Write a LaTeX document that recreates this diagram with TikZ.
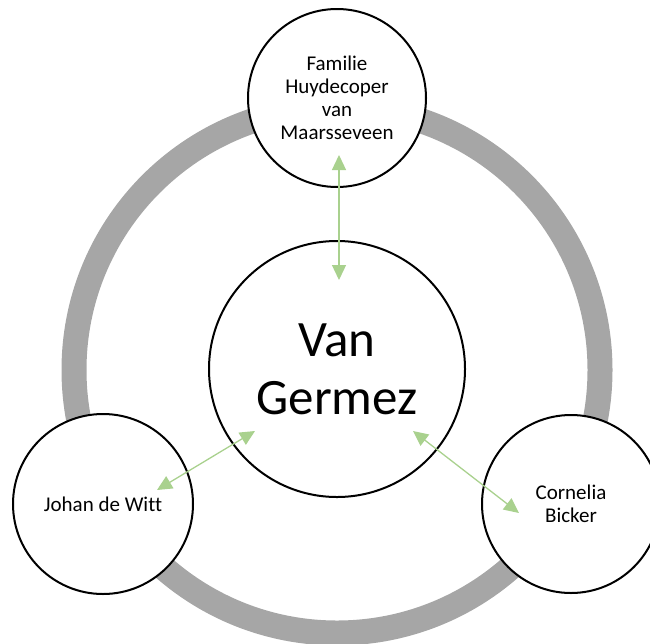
\documentclass[tikz,border=0pt]{standalone}
\usepackage{fontspec}
\setmainfont{Carlito}[Ligatures=NoCommon]
\usetikzlibrary{arrows.meta,calc}

\definecolor{ringgray}{HTML}{A6A6A6}
\definecolor{linkgreen}{HTML}{A9D18E}

\tikzset{
  person/.style={circle, draw=black, line width=2pt, fill=white, inner sep=0pt,
    align=center, font=\fontsize{21}{22.9}\selectfont},
  centre/.style={person, font=\fontsize{51}{58}\selectfont},
  link/.style={draw=linkgreen, line width=1.3pt,
    {Triangle[length=15pt,width=14pt,fill=linkgreen]}-{Triangle[length=15pt,width=14pt,fill=linkgreen]}},
  ring/.style={draw=ringgray, line width=25pt}
}

\begin{document}
\begin{tikzpicture}[x=1pt,y=-1pt]
  \useasboundingbox (0,0) rectangle (650,643);

  % grey ring behind everything
  \coordinate (hub) at (337,370);
  \draw[ring] (hub) circle[radius=263];

  % the four circles
  \node[centre, minimum size=256pt] (vg) at (337,369) {Van\\Germez};
  \node[person, minimum size=178pt] (hvm) at (337,98) {Familie\\Huydecoper\\van\\Maarsseveen};
  \node[person, minimum size=180pt] (jdw) at (103,504) {Johan de Witt};
  \node[person, minimum size=178pt] (cb) at (571,504) {Cornelia\\Bicker};

  % arrow end points inside the circles
  \coordinate (hvmEnd) at ($(hvm)+(2,57)$);
  \coordinate (vgTop)  at ($(vg)+(2,-89)$);
  \coordinate (jdwEnd) at ($(jdw)+(54,-14)$);
  \coordinate (vgLeft) at ($(vg)+(-82,62)$);
  \coordinate (cbEnd)  at ($(cb)+(-52,9)$);
  \coordinate (vgRight) at ($(vg)+(76,62)$);

  % two-headed links
  \draw[link] (hvmEnd) -- (vgTop);
  \draw[link] (jdwEnd) -- (vgLeft);
  \draw[link] (vgRight) -- (cbEnd);
\end{tikzpicture}
\end{document}
